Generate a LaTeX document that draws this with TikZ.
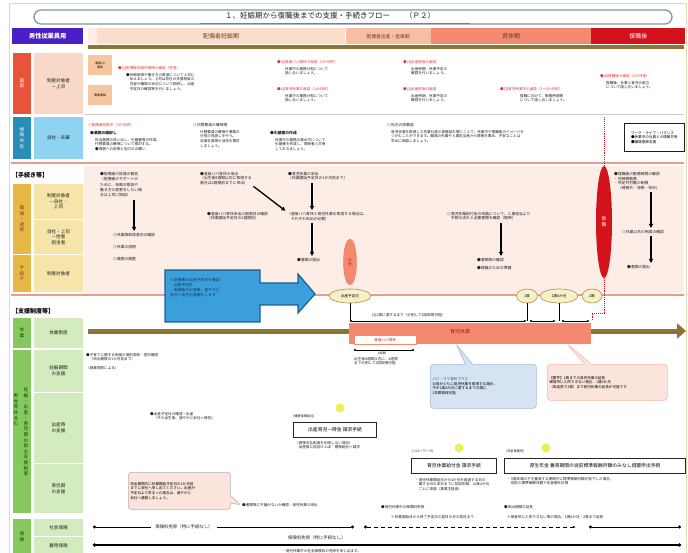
\documentclass[tikz,border=0pt]{standalone}
\usepackage{fontspec}
\newfontfamily\jp{Noto Sans CJK JP}
\usetikzlibrary{positioning,shapes.geometric,shapes.callouts,arrows.meta}

\definecolor{hdpurple}{HTML}{4B1FC8}
\definecolor{peachA}{HTML}{FBDDCB}
\definecolor{peachB}{HTML}{F7BFA2}
\definecolor{salmon}{HTML}{F38A70}
\definecolor{hdred}{HTML}{D3121B}
\definecolor{band}{HTML}{8C7434}
\definecolor{stripred}{HTML}{E8533B}
\definecolor{cellpeach}{HTML}{F8D9C8}
\definecolor{stripblue}{HTML}{2A8DB8}
\definecolor{cellblue}{HTML}{8FD3F0}
\definecolor{stripyel}{HTML}{E6B845}
\definecolor{cellyel}{HTML}{F6E4AA}
\definecolor{stripgrn}{HTML}{86C85E}
\definecolor{cellgrn}{HTML}{D3EBBE}
\definecolor{pinkbg}{HTML}{FCEDE7}
\definecolor{redtxt}{HTML}{E0303A}
\definecolor{linesal}{HTML}{EE9A88}
\definecolor{agefill}{HTML}{F7F0C6}
\definecolor{agedraw}{HTML}{B59A5A}
\definecolor{arrblue}{HTML}{3A9FDB}
\definecolor{arrline}{HTML}{1B5E96}
\definecolor{callblue}{HTML}{D5E3F3}
\definecolor{callpink}{HTML}{FBE4DC}
\definecolor{orbox}{HTML}{F6C79E}
\definecolor{titleln}{HTML}{7E98AC}
\definecolor{txgray}{HTML}{1E1E1E}
\definecolor{hintyel}{HTML}{EEF05A}
\definecolor{framecol}{HTML}{E3D9B8}

\newcommand\ftx{\jp\fontsize{3.6}{4.6}\selectfont}
\newcommand\flb{\jp\fontsize{4.6}{5.6}\selectfont}

\tikzset{
  tx/.style={font=\ftx, text=txgray, anchor=north west, inner sep=0pt, align=left},
  redhd/.style={tx, text=redtxt},
  cellbox/.style={draw=white, line width=1pt, anchor=north west, inner sep=0pt,
    minimum width=50, font=\flb, text=txgray, align=center},
  stripbox/.style={draw=white, line width=1pt, anchor=north west, inner sep=0pt,
    minimum width=19, font=\flb, text=white, align=center},
  phasebox/.style={anchor=north west, inner sep=0pt, minimum height=16,
    font=\jp\fontsize{6}{7}\selectfont, text=brown!50!black},
  dnarrow/.style={-{Triangle[length=4pt,width=4pt]}, line width=1.3pt, shorten <=2pt, shorten >=2pt},
  age/.style={ellipse, draw=agedraw, fill=agefill, line width=0.7pt, inner sep=0pt,
    minimum height=14, font=\ftx},
  procbox/.style={draw=black!85, line width=1.2pt, anchor=north west, inner sep=0pt,
    minimum height=15, font=\jp\fontsize{4.8}{5.5}\selectfont},
  hint/.style={circle, fill=hintyel, minimum size=9, inner sep=0pt},
  dimline/.style={thin, {Circle[length=2pt]}-{Latex[length=3pt,width=2pt]}},
  callbox/.style={rectangle callout, rounded corners=3pt, anchor=north west, inner sep=2pt,
    font=\ftx, align=left, line width=0.6pt},
}

\begin{document}
\begin{tikzpicture}[x=1pt,y=-1pt]
\useasboundingbox (0,0) rectangle (688,553);
\fill[white] (0,0) rectangle (688,553);
\draw[framecol, line width=1pt] (9,4) rectangle (686,556);

% title
\node[draw=titleln, line width=1.3pt, rounded corners=7pt, minimum width=638, minimum height=14, inner sep=0] (title) at (353,17) {};
\node[font=\jp\fontsize{7.5}{8}\selectfont, text=txgray, inner sep=0] (titletx) at (330,16) {１、妊娠期から復職後までの支援・手続きフロー　　（Ｐ２）};
\draw[gray] (200,23) -- (470,23);

% header row
\node[fill=hdpurple, text=white, anchor=north west, minimum width=71, minimum height=16, inner sep=0,
  font=\jp\bfseries\fontsize{6.2}{7}\selectfont] (male) at (12,28) {男性従業員用};
\fill[peachA!50] (88,28) rectangle (97,44);
\node[phasebox, fill=peachA, minimum width=248] (ph1) at (97,28) {配偶者妊娠期};
\node[phasebox, fill=peachB, minimum width=85, font=\jp\fontsize{4.8}{6}\selectfont] (ph2) at (ph1.north east) {配偶者出産・産後期};
\node[phasebox, fill=salmon, minimum width=160] (ph3) at (ph2.north east) {育休期};
\node[phasebox, fill=hdred, minimum width=94, text=white] (ph4) at (ph3.north east) {復職後};
\fill[band] (88,45) rectangle (684,49);

% row 1 : mendan
\node[stripbox, fill=stripred, minimum height=62] (s1) at (12,52) {面\\談};
\node[cellbox, fill=cellpeach, minimum height=62] (c1) at (33,52) {制度対象者\\－上司};
\node[anchor=north west, fill=orbox, minimum width=24, minimum height=20, inner sep=0,
  font=\jp\fontsize{3}{3.8}\selectfont, align=center] (ob1) at (88,55) {面談(1)\\事前};
\node[anchor=north west, fill=orbox, minimum width=24, minimum height=20, inner sep=0,
  font=\jp\fontsize{3}{3.8}\selectfont, align=center] (ob2) at (88,85) {事後面談};
\node[redhd] (m1) at (118,66) {●(1)配偶者妊娠判明時の面談（任意）};
\node[tx] (m1t) at (126,73) {●休暇取得や働き方の希望について上司に\\　伝えましょう。上司は会社の支援制度の\\　内容や職場の状況について説明し、出産\\　予定日の確認等を行いましょう。};
\node[redhd] (m2) at (277,60) {●(2)産後パパ育休の面談（1か月前）};
\node[tx] (m2t) at (285,67) {休業中の業務分担について\\話し合いましょう。};
\node[redhd] (m3) at (277,87) {●(2)育児休業の面談（1か月前）};
\node[tx] (m3t) at (285,94) {休業中の業務分担について\\話し合いましょう。};
\node[redhd] (m4) at (403,60) {●(3)出産直後の面談};
\node[tx] (m4t) at (411,67) {出産時期、休業予定の\\確認を行いましょう。};
\node[redhd] (m5) at (403,87) {●(3)出産前後の面談};
\node[tx] (m5t) at (411,94) {出産時期、休業予定の\\確認を行いましょう。};
\node[redhd] (m6) at (500,87) {●(3)育児休業中の面談（1～2か月前）};
\node[tx] (m6t) at (520,94) {復職に向けて、勤務時間等\\について話し合いましょう。};
\node[redhd] (m7) at (600,74) {●(4)復職後の面談（1か月後）};
\node[tx] (m7t) at (606,81) {復職後、仕事と育児の両立\\について話し合いましょう。};
\draw[gray!40] (84,114) -- (684,114);

% row 2 : joho kyoyu
\node[stripbox, fill=stripblue, minimum height=43] (s2) at (12,116) {情\\報\\共\\有};
\node[cellbox, fill=cellblue, minimum height=43] (c2) at (33,116) {自社・先輩};
\node[redhd] (j1) at (88,123) {◎配偶者妊娠中（7か月頃）};
\node[tx, font=\jp\bfseries\fontsize{3.8}{4.6}\selectfont] (j2) at (90,131) {●業務の棚卸し};
\node[tx] (j3) at (95,138) {担当業務の洗い出し、引継書等の作成、\\代替要員の確保について検討する。\\●周囲への説明と協力のお願い};
\node[tx, font=\jp\fontsize{3.8}{4.6}\selectfont] (j4) at (193,123) {◎代替要員の確保等};
\node[tx] (j5) at (200,130) {代替要員の確保や業務の\\分担の見直しを行う。\\派遣社員等の活用を検討\\しましょう。};
\node[tx, font=\jp\bfseries\fontsize{3.8}{4.6}\selectfont] (j6) at (270,131) {●引継書の作成};
\node[tx] (j7) at (275,138) {休業中の業務の進め方について\\引継書を作成し、関係者と共有\\しておきましょう。};
\node[tx, font=\jp\fontsize{3.8}{4.6}\selectfont] (j8) at (387,123) {◎社内の体験談};
\node[tx] (j9) at (391,130) {育児休業を取得した先輩社員の体験談を聞くことで、休業中や復職後のイメージを\\つかむことができます。職場の先輩や人事担当者から情報を集め、不安なことは\\早めに相談しましょう。};
\node[draw=txgray, line width=0.8pt, anchor=north west, minimum width=60, minimum height=28, inner sep=2pt,
  font=\ftx, align=left] (wlb) at (624,123) {ワーク・ライフ・バランス\\●休業中の社員との情報共有\\●職場復帰支援};
\draw[linesal, line width=2pt] (11,163) -- (684,163);

% tetsuzuki
\fill[pinkbg] (84,166) rectangle (684,293);
\node[anchor=west, font=\jp\bfseries\fontsize{6}{7}\selectfont, inner sep=0] (proc) at (12,175) {【手続き等】};
\node[stripbox, fill=stripyel, text=brown!60!black, minimum height=71] (s3) at (12,183) {職\\場\\・\\連\\携};
\node[stripbox, fill=stripyel, text=brown!60!black, minimum height=38] (s4) at (12,254) {手\\続\\き};
\node[cellbox, fill=cellyel, minimum height=36] (c3) at (33,183) {制度対象者\\－自社・\\上司};
\node[cellbox, fill=cellyel, minimum height=35] (c4) at (33,219) {自社・上司\\－他者\\担当者};
\node[cellbox, fill=cellyel, minimum height=38] (c5) at (33,254) {制度対象者};

\node[tx, font=\jp\fontsize{3.8}{5.4}\selectfont] (k1) at (100,172) {●配偶者の妊娠の報告\\（配偶者のサポートの\\ために、休暇の取得や\\働き方の変更をしたい場\\合は上司に相談）};
\node[tx, font=\jp\fontsize{3.8}{4.6}\selectfont] (k2) at (113,233) {◎休業等取得意向の確認\\[7.5pt]◎休業の説明\\[7.5pt]◎業務の調整};
\draw[dnarrow] (k1.south -| k2.north) -- (k2.north);
\node[tx, font=\jp\fontsize{3.8}{4.6}\selectfont] (k3) at (200,172) {●産後パパ育休の申出\\（出生後8週間以内に取得する\\場合は2週間前までに申出）};
\node[tx, font=\jp\fontsize{3.8}{4.6}\selectfont] (k4) at (207,212) {●産後パパ育休申出の期限日の確認\\（休業開始予定日の2週間前）};
\node[tx, font=\jp\fontsize{3.8}{4.6}\selectfont] (k5) at (288,172) {●育児休業の申出\\（休業開始予定日の1か月前まで）};
\node[tx, font=\jp\fontsize{3.8}{4.6}\selectfont] (k6) at (287,212) {（産後パパ育休と育児休業を取得する場合は、\\　それぞれ申出が必要）};
\node[tx, font=\jp\fontsize{3.8}{4.6}\selectfont] (k7) at (297,258) {●書類の提出};
\coordinate (ax1) at (312,0);
\draw[dnarrow] (k3.south east) -- (k6.north west);
\draw[dnarrow] (k5.south -| ax1) -- (k6.north -| ax1);
\draw[dnarrow] (k6.south -| ax1) -- (k7.north -| ax1);
\node[tx, font=\jp\fontsize{3.8}{4.6}\selectfont] (k8) at (447,212) {◎育児休業給付金の申請について、人事担当より\\　手続の流れと必要書類を確認（随時）};
\node[tx, font=\jp\fontsize{3.8}{4.6}\selectfont] (k9) at (477,258) {●書類等の確認\\[3pt]●復職のための準備};
\coordinate (ax2) at (501,0);
\draw[dnarrow] (k8.south -| ax2) -- (k9.north -| ax2);
\node[tx, font=\jp\fontsize{3.8}{4.8}\selectfont] (k11) at (614,172) {●復職後の勤務時間の確認\\・短時間勤務\\・所定外労働の制限\\　（時間外・深夜・休日）};
\node[tx, font=\jp\fontsize{3.8}{4.6}\selectfont] (k12) at (622,230) {◎休業以外の制度の確認};
\node[tx, font=\jp\fontsize{3.8}{4.6}\selectfont] (k13) at (627,265) {●書類の提出};
\coordinate (ax3) at (651,0);
\draw[dnarrow] (k11.south -| ax3) -- (k12.north -| ax3);
\draw[dnarrow] (k12.south -| ax3) -- (k13.north -| ax3);

% fukushoku ellipse and birth
\node[ellipse, fill=hdred, minimum width=16, minimum height=112, inner sep=0, text=white, font=\flb, align=center] (fuku) at (604,222) {復\\職};
\draw[hdred, densely dotted, line width=0.9pt] (fuku.north) -- (604,117);
\node[ellipse, fill=salmon, draw=salmon!80!red, minimum width=13, minimum height=46, inner sep=0, font=\ftx, text=hdred, align=center] (birth) at (350,262) {出\\産};

% timeline of ages
\draw[linesal, line width=2pt] (11,295) -- (684,295);
\node[age, minimum width=42] (due) at (350,296) {出産予定日};
\node[age, minimum width=21] (y1) at (527,296) {1歳};
\node[age, minimum width=38] (y15) at (559,296) {1歳6か月};
\node[age, minimum width=20] (y2) at (592,296) {2歳};

% blue arrow box
\draw[fill=arrblue, draw=arrline, line width=1.2pt] (165,270) -- (260,270) -- (260,283) -- (298,283) -- (298,274)
  -- (315,294) -- (298,313) -- (298,305) -- (260,305) -- (260,322) -- (165,322) -- cycle;
\node[tx, font=\jp\fontsize{3.8}{5}\selectfont, text=arrline!60!black] (bluetx) at (170,278) {※配偶者の出産予定日を確認\\・出産予定日\\・配偶者の出産後、速やかに\\会社へ出生の連絡をします};

\node[anchor=west, font=\jp\bfseries\fontsize{6}{7}\selectfont, inner sep=0] (supp) at (12,311) {【支援制度等】};

% dimension lines under ages
\coordinate (tl0) at (350,321);
\coordinate (tl1) at (527,321);
\coordinate (tl2) at (530,321);
\coordinate (tl3) at (556,321);
\coordinate (tl4) at (562,321);
\coordinate (tl5) at (590,321);
\coordinate (tr2) at (604,313);
\draw[thin] (due.south) -- (tl0);
\draw[thin] (y1.south) -- (tl1);
\draw[thin] (y15.south) -- (y15.south |- tl0);
\draw[hdred, densely dotted, line width=0.9pt] (fuku.south) -- (tr2) -- (tr2 -| y2.south) -- (y2.south |- tl0);
\draw[dimline] (tl0) -- (tl1);
\draw[dimline] (tl2) -- (tl3);
\draw[dimline] (tl4) -- (tl5);
\node[tx] (dimtx) at (372,313) {(2)1歳に達するまで（分割して2回取得可能）};

% olive band and leave bar
\coordinate (bandL) at (88,331);
\coordinate (bandR) at (686,331);
\draw[band, line width=5pt, -{Triangle[length=9pt,width=15pt]}] (bandL) -- (bandR);
\node[anchor=north west, fill=salmon, minimum width=242, minimum height=21, inner sep=0] (ikukyu) at (349,323) {};
\node[font=\jp\fontsize{5}{6}\selectfont, text=hdred!80!black, inner sep=0] (ikukyutx) at (460,332) {育児休業};
\node[anchor=north west, fill=white, draw=salmon, minimum width=62, minimum height=9, inner sep=0, font=\ftx, text=hdred] (papa) at (354,335) {産後パパ育休};
\coordinate (p0) at (354,350);
\coordinate (p1) at (414,350);
\draw[thin, {Circle[length=2pt]}-{Circle[length=2pt]}] (p0) -- (p1);
\node[tx, font=\jp\fontsize{3}{3.6}\selectfont] (p8) at (378,352) {8週間};
\node[tx] (p8t) at (354,357) {出生後8週間以内に、4週間\\まで分割して2回取得可能};

% callouts on the bar
\node[callbox, fill=callblue, draw=arrline!40, callout absolute pointer={(456,344)}, text width=102, minimum height=44] (plus) at (430,364)
  {\textcolor{arrline}{パパ・ママ育休プラス}\\父母がともに育児休業を取得する場合、\\子が1歳2か月に達するまでの間に\\1年間取得可能};
\node[callbox, fill=callpink, draw=salmon!60, callout absolute pointer={(567,344)}, text width=116, minimum height=36] (ext) at (547,364)
  {【要件】1歳までの育児休業の延長\\保育所に入所できない場合、1歳6か月\\（再延長で2歳）まで育児休業の延長が可能です};

% support rows
\node[stripbox, fill=stripgrn, text=green!30!black, minimum height=31] (s5) at (12,317) {休\\業};
\node[cellbox, fill=cellgrn, minimum height=31] (c6) at (33,317) {休業制度};
\node[stripbox, fill=stripgrn, minimum height=164] (s6) at (12,349) {};
\node[font=\flb, text=green!30!black, align=center, inner sep=0] (s6a) at (26,432) {妊\\娠\\・\\出\\産\\・\\育\\児\\期\\の\\両\\立\\支\\援\\制\\度};
\node[font=\flb, text=green!30!black, align=center, inner sep=0] (s6b) at (16,410) {男\\性\\育\\休\\含\\む};
\node[cellbox, fill=cellgrn, minimum height=43] (c7) at (33,349) {妊娠期間\\の支援};
\node[cellbox, fill=cellgrn, minimum height=71] (c8) at (33,392) {出産時\\の支援};
\node[cellbox, fill=cellgrn, minimum height=50] (c9) at (33,463) {育児期\\の支援};
\node[stripbox, fill=stripgrn, text=green!30!black, minimum height=36] (s7) at (12,518) {保\\険};
\node[cellbox, fill=cellgrn, minimum height=18] (c10) at (33,518) {社会保険};
\node[cellbox, fill=cellgrn, minimum height=18] (c11) at (33,536) {雇用保険};

\node[tx] (g1) at (86,353) {●子育てに関する制度の個別周知・意向確認\\　（申出期限の1か月前まで）\\[4pt]（就業規則による）};
\node[tx] (g2) at (150,412) {●出産予定日の確認・出産\\　（子の出生後、速やかに会社へ報告）};
\node[hint] (h1) at (340,408) {};
\node[tx, font=\jp\fontsize{3.2}{4}\selectfont] (g3) at (293,415) {[健康保険組合]};
\node[procbox, minimum width=83] (pb1) at (293,422) {出産育児一時金 請求手続};
\node[tx] (g4) at (295,441) {（直接支払制度を利用しない場合）\\　出産後に協会けんぽ・健保組合へ請求};
\node[hint] (h2) at (459,448) {};
\node[tx, font=\jp\fontsize{3.2}{4}\selectfont] (g5) at (412,450) {[ハローワーク]};
\node[procbox, minimum width=85] (pb2) at (411,458) {育児休業給付金 請求手続};
\node[tx] (g6) at (415,478) {・育児休業開始日から4か月を経過する日の\\　属する月の末日までに初回申請、以後2か月\\　ごとに申請（事業主経由）};
\node[hint] (h3) at (546,448) {};
\node[tx, font=\jp\fontsize{3.2}{4}\selectfont] (g7) at (506,450) {[年金事務所]};
\node[procbox, minimum width=181] (pb3) at (504,458) {厚生年金 養育期間の従前標準報酬月額のみなし措置申出手続};
\node[tx] (g8) at (507,477) {・3歳未満の子を養育する期間中に標準報酬月額が低下した場合、\\　従前の標準報酬月額で年金額を計算};
\node[callbox, fill=callpink, draw=gray!60, callout absolute pointer={(241,505)}, text width=98, minimum height=37] (cp2) at (128,472)
  {申出期間内に休業開始予定日の1か月前\\までに会社へ申し出てください。出産が\\予定日より早まった場合は、速やかに\\会社へ連絡しましょう。};
\node[tx] (g9) at (242,503) {●書類等に不備がないか確認・育児休業の申出};
\node[tx] (g10) at (381,505) {●育児休業中の保険料免除};
\node[tx] (g11) at (391,515) {※休業開始月から終了予定日の翌日の月の前月まで};
\node[tx] (g12) at (504,505) {●申出期間の延長};
\node[tx] (g13) at (507,515) {※保育所に入所できない等の場合、1歳6か月・2歳まで延長};

% insurance lines
\coordinate (sh0) at (93,527);
\coordinate (sh1) at (354,527);
\coordinate (sh2) at (364,527);
\coordinate (sh3) at (576,527);
\coordinate (sh4) at (589,527);
\coordinate (sh5) at (681,527);
\node[font=\jp\fontsize{4.4}{5}\selectfont, text=txgray, inner sep=0] (shtx) at (184,527) {保険料免除（特に手続なし）};
\draw[line width=0.9pt, {Circle[length=3pt]}-] (sh0) -- ([xshift=-4pt]shtx.west);
\draw[line width=0.9pt, -{Circle[length=3pt]}] ([xshift=4pt]shtx.east) -- (sh1);
\draw[line width=0.9pt, dash pattern=on 4pt off 3pt, {Circle[length=3pt]}-{Latex[length=3pt]}] (sh2) -- (sh3);
\draw[line width=0.9pt, {Circle[length=3pt]}-{Circle[length=3pt]}] (sh4) -- (sh5);
\coordinate (ko0) at (93,545);
\coordinate (ko1) at (681,545);
\draw[line width=1.5pt, {Circle[length=3pt]}-{Circle[length=3pt]}] (ko0) -- (ko1);
\node[font=\jp\fontsize{4.4}{5}\selectfont, text=txgray, inner sep=0, anchor=west] (kotx) at (288,538) {保険料免除（特に手続なし）};
\node[tx] (g14) at (282,549) {・育児休業中の社会保険料の免除を申し出ます。};
\end{tikzpicture}
\end{document}
